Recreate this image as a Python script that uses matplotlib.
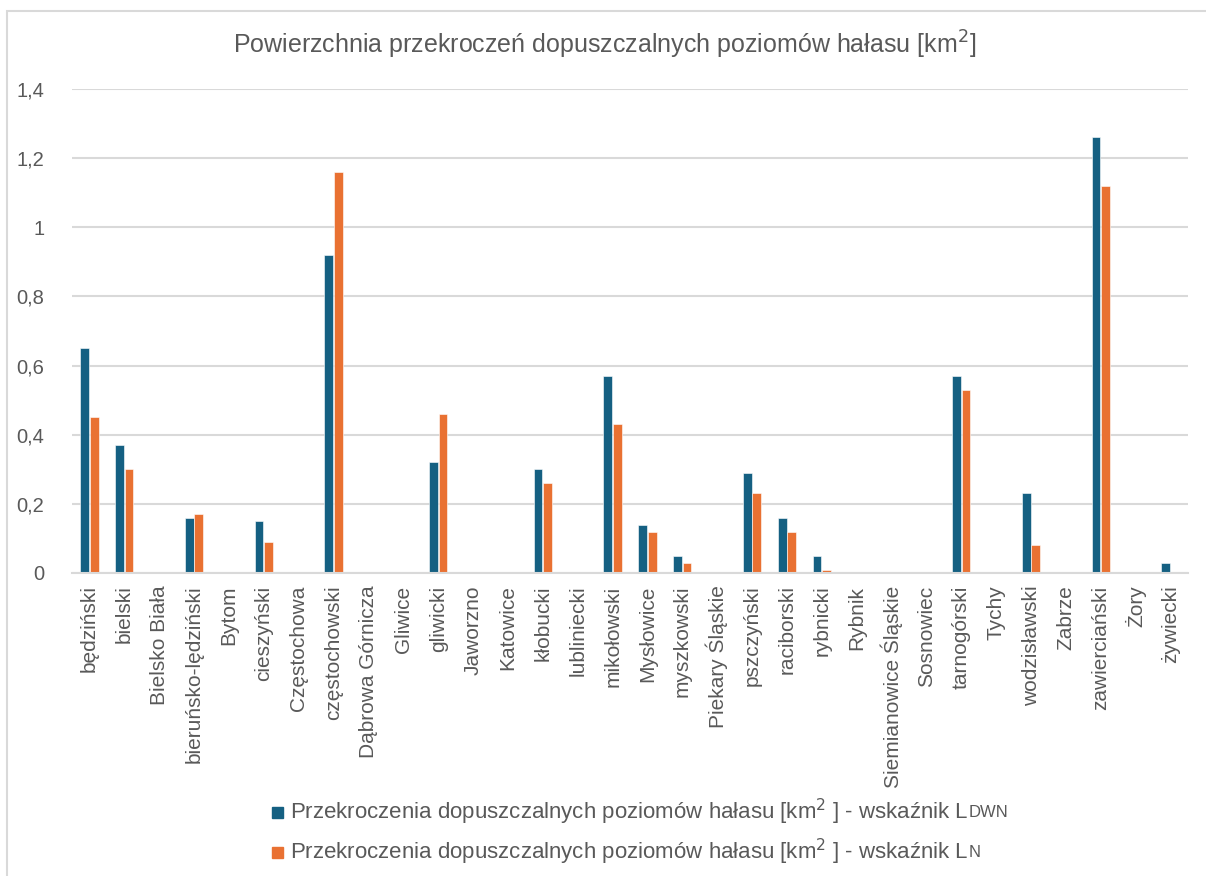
import matplotlib.pyplot as plt
import numpy as np
from matplotlib.patches import Rectangle

plt.rcParams['font.family'] = ['Liberation Sans', 'DejaVu Sans']

COUNTIES = ['będziński', 'bielski', 'Bielsko Biała', 'bieruńsko-lędziński', 'Bytom',
            'cieszyński', 'Częstochowa', 'częstochowski', 'Dąbrowa Górnicza', 'Gliwice',
            'gliwicki', 'Jaworzno', 'Katowice', 'kłobucki', 'lubliniecki', 'mikołowski',
            'Mysłowice', 'myszkowski', 'Piekary Śląskie', 'pszczyński', 'raciborski',
            'rybnicki', 'Rybnik', 'Siemianowice Śląskie', 'Sosnowiec', 'tarnogórski',
            'Tychy', 'wodzisławski', 'Zabrze', 'zawierciański', 'Żory', 'żywiecki']
LDWN = [0.65, 0.37, 0, 0.16, 0, 0.15, 0, 0.92, 0, 0, 0.32, 0, 0, 0.30, 0, 0.57,
        0.14, 0.05, 0, 0.29, 0.16, 0.05, 0, 0, 0, 0.57, 0, 0.23, 0, 1.26, 0, 0.03]
LN = [0.45, 0.30, 0, 0.17, 0, 0.09, 0, 1.16, 0, 0, 0.46, 0, 0, 0.26, 0, 0.43,
      0.12, 0.03, 0, 0.23, 0.12, 0.01, 0, 0, 0, 0.53, 0, 0.08, 0, 1.12, 0, 0]
YTICKS = [0, 0.2, 0.4, 0.6, 0.8, 1, 1.2, 1.4]
SERIES_LABEL = 'Przekroczenia dopuszczalnych poziomów hałasu [km$^2$ ] - wskaźnik L'
SERIES_SUFFIX = ['DWN', 'N']

BLUE = '#156082'
ORANGE = '#E97132'
GRID = '#d9d9d9'
TEXT = '#595959'
W, H = 1206, 876

fig = plt.figure(figsize=(W / 100, H / 100), dpi=100)
fig.patches.append(Rectangle((7 / W, -0.1), 1.2, 1 - 11 / H + 0.1, transform=fig.transFigure,
                             fill=False, edgecolor=GRID, linewidth=1.5, zorder=0))
ax = fig.add_axes([72 / W, 1 - 573 / H, (1188 - 72) / W, (573 - 89) / H])

x = np.arange(len(COUNTIES))
bw = 0.25
ax.bar(x - bw / 2 - 0.01, LDWN, bw, color=BLUE, edgecolor='white', linewidth=0.4, zorder=3)
ax.bar(x + bw / 2 + 0.01, LN, bw, color=ORANGE, edgecolor='white', linewidth=0.4, zorder=3)

ax.set_xlim(-0.5, len(COUNTIES) - 0.5)
ax.set_ylim(0, 1.4)
ax.set_yticks(YTICKS)
ax.set_yticklabels([f'{v:g}'.replace('.', ',') for v in YTICKS])
ax.set_xticks(x)
ax.set_xticklabels(COUNTIES, rotation=90, va='top', ha='center')
ax.tick_params(axis='y', length=0, pad=20, labelsize=14.5, labelcolor=TEXT)
ax.tick_params(axis='x', length=0, pad=9, labelsize=15, labelcolor=TEXT)
ax.yaxis.grid(True, color=GRID, linewidth=1.5, zorder=0)
for s in ['left', 'right', 'top']:
    ax.spines[s].set_visible(False)
ax.spines['bottom'].set_color(GRID)
ax.spines['bottom'].set_linewidth(1.5)
ax.spines['bottom'].set_zorder(4)

fig.text(605 / W, 1 - 45 / H, 'Powierzchnia przekroczeń dopuszczalnych poziomów hałasu [km$^2$]',
         ha='center', va='center', fontsize=18, color=TEXT)

# legend drawn by hand so the index letters can be small caps
fig.canvas.draw()
renderer = fig.canvas.get_renderer()
for i, (col, suf) in enumerate(zip([BLUE, ORANGE], SERIES_SUFFIX)):
    yc = 812 + i * 40
    fig.patches.append(Rectangle((272 / W, 1 - (yc + 5.5) / H), 11 / W, 11 / H,
                                 transform=fig.transFigure, color=col))
    t = fig.text(290 / W, 1 - (yc + 7) / H, SERIES_LABEL, ha='left', va='baseline',
                 fontsize=16, color=TEXT)
    bb = t.get_window_extent(renderer)
    fig.text(bb.x1 / W, 1 - (yc + 5) / H, suf, ha='left', va='baseline',
             fontsize=12, color=TEXT)

fig.savefig('out.png', dpi=100)
